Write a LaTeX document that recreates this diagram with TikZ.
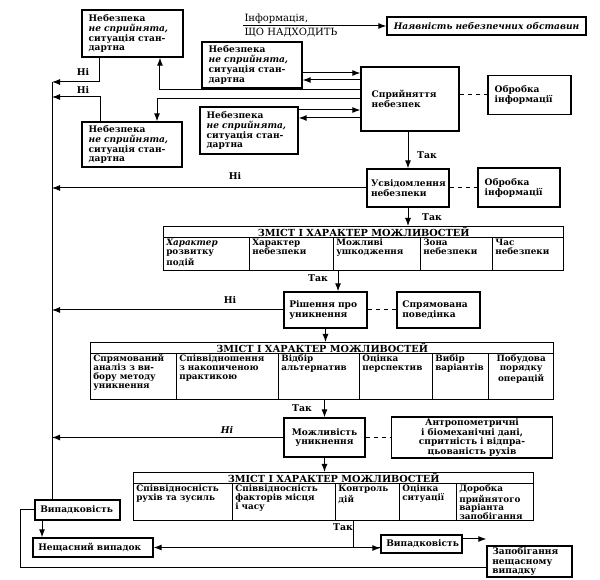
\documentclass[tikz,border=0pt]{standalone}
\usepackage{fontspec}
\setmainfont{DejaVu Serif}
\usetikzlibrary{arrows.meta}
\usetikzlibrary{calc}
\newcommand{\boxfont}{\fontsize{6.8}{7.4}\selectfont\bfseries}
\newcommand{\cellfont}{\fontsize{6.6}{6.7}\selectfont\bfseries}
\newcommand{\headfont}{\fontsize{7.3}{8}\selectfont\bfseries}
\newcommand{\lblfont}{\fontsize{7}{8}\selectfont\bfseries}
\newcommand{\infofont}{\fontsize{7.5}{8}\selectfont}
\tikzset{every picture/.style={line width=0.75pt},
  box/.style={draw, line width=1pt, font=\boxfont, align=left, inner xsep=5pt, inner ysep=2pt},
  head/.style={draw, line width=1pt, font=\headfont, anchor=north west, inner sep=0pt, minimum height=8.25pt},
  cell/.style={draw, line width=1pt, font=\cellfont, anchor=north west, align=left, inner xsep=2pt, inner ysep=1.5pt, text height=4.5pt},
  cellA/.style={cell, text depth=17.25pt},
  cellB/.style={cell, text depth=27pt},
  cellC/.style={cell, text depth=20.25pt},
  lbl/.style={font=\lblfont, inner sep=0.75pt},
  arr/.style={-{Latex[length=6pt,width=4.5pt]}},
  link/.style={dash pattern=on 3.5pt off 2.5pt}}

\begin{document}
\begin{tikzpicture}[x=0.75pt,y=0.75pt,yscale=-1,xscale=1]
\useasboundingbox (0,0) rectangle (600,580);

%Shape: top boxes
\node[box, text width=65.75pt, minimum height=35.25pt] (dangerA) at (132.5,33.5) {Небезпека\\\textit{не сприйнята,}\\ситуація стан-\\дартна};
\node[box, text width=65pt, minimum height=33.75pt] (dangerB) at (132,144.5) {Небезпека\\\textit{не сприйнята,}\\ситуація стан-\\дартна};
\node[box, text width=65pt, minimum height=34.5pt] (dangerC) at (252,65) {Небезпека\\\textit{не сприйнята,}\\ситуація стан-\\дартна};
\node[box, text width=63.5pt, minimum height=35.25pt] (dangerD) at (249,130.5) {Небезпека\\\textit{не сприйнята,}\\ситуація стан-\\дартна};
\node[box, align=center, text width=139.25pt, minimum height=13.5pt, font=\boxfont\itshape] (obst) at (486.5,26) {Наявність небезпечних обставин};
\node[box, inner xsep=8pt, text width=57.5pt, minimum height=48pt] (perc) at (410,99) {Сприйняття\\небезпек};
\node[box, text width=52.25pt, minimum height=29.25pt] (procA) at (529.5,95) {Обробка\\інформації};

% Text Node
\coordinate (infoStart) at (243,26);
\node[font=\infofont, anchor=south west, inner sep=0.75pt] (infoA) at (243,25) {Інформація,};
\node[font=\infofont, anchor=north west, inner sep=0.75pt] (infoB) at (243,27) {ЩО НАДХОДИТЬ};

%Shape: middle boxes
\node[box, inner xsep=3pt, text width=55.5pt, minimum height=28.5pt] (aware) at (408,188) {Усвідомлення\\небезпеки};
\node[box, text width=51.5pt, minimum height=29.25pt] (procB) at (519,187.5) {Обробка\\інформації};
\node[box, inner xsep=4pt, text width=54.25pt, minimum height=27pt] (decide) at (325.5,310) {Рішення про\\уникнення};
\node[box, inner xsep=4pt, text width=54.25pt, minimum height=27pt] (dirbeh) at (438.5,310) {Спрямована\\поведінка};
\node[box, align=center, inner xsep=4pt, text width=52.75pt, minimum height=29.25pt] (avoid) at (324.5,437.5) {Можливість\\уникнення};
\node[box, align=center, inner ysep=1pt, text width=110.5pt, minimum height=30.75pt] (anthro) at (472,437.5) {Антропометричні\\і біомеханічні дані,\\спритність і відпра-\\цьованість рухів};

%Shape: table 1
\node[head, minimum width=300pt] (headA) at (163,226) {ЗМІСТ І ХАРАКТЕР МОЖЛИВОСТЕЙ};
\node[cellA, text width=60.5pt] (cellA1) at (163,237) {\textit{Характер}\\розвитку\\подій};
\node[cellA, text width=59pt] (cellA2) at (249,237) {Характер\\небезпеки};
\node[cellA, text width=61.25pt] (cellA3) at (333,237) {Можливі\\ушкодження};
\node[cellA, text width=50pt] (cellA4) at (420,237) {Зона\\небезпеки};
\node[cellA, text width=49.25pt] (cellA5) at (492,237) {Час\\небезпеки};

%Shape: table 2
\node[head, minimum width=347.25pt] (headB) at (90,342) {ЗМІСТ І ХАРАКТЕР МОЖЛИВОСТЕЙ};
\node[cellB, text width=60.5pt] (cellB1) at (90,353) {Спрямований\\аналіз з ви-\\бору методу\\уникнення};
\node[cellB, text width=72.5pt] (cellB2) at (176,353) {Співвідношення\\з накопиченою\\практикою};
\node[cellB, text width=56.75pt] (cellB3) at (278,353) {Відбір\\альтернатив};
\node[cellB, text width=50.75pt] (cellB4) at (359,353) {Оцінка\\перспектив};
\node[cellB, text width=38pt] (cellB5) at (432,353) {Вибір\\варіантів};
\node[cellB, align=center, text width=44.75pt] (cellB6) at (488,353) {Побудова\\порядку\\операцій};

%Shape: table 3
\node[head, minimum width=300pt] (headC) at (133,472) {ЗМІСТ І ХАРАКТЕР МОЖЛИВОСТЕЙ};
\node[cellC, text width=70.25pt] (cellC1) at (133,483) {Співвідносність\\рухів та зусиль};
\node[cellC, text width=73.25pt] (cellC2) at (232,483) {Співвідносність\\факторів місця\\і часу};
\node[cellC, text width=44pt] (cellC3) at (335,483) {Контроль\\дій};
\node[cellC, text width=38.75pt] (cellC4) at (399,483) {Оцінка\\ситуації};
\node[cellC, text width=53.75pt] (cellC5) at (456,483) {Доробка\\прийнятого\\варіанта\\запобігання};

%Shape: bottom boxes
\node[box, inner xsep=4pt, text width=55.75pt, minimum height=15pt] (randA) at (77.5,510) {Випадковість};
\node[box, inner xsep=4pt, text width=82pt, minimum height=14.25pt] (accident) at (93,547.5) {Нещасний випадок};
\node[box, inner xsep=4pt, text width=52.75pt, minimum height=13.5pt] (randB) at (421.5,544) {Випадковість};
\node[box, inner xsep=4pt, inner ysep=0.5pt, text width=55.75pt, minimum height=23.25pt] (prevent) at (529.5,561.5) {Запобігання\\нещасному\\випадку};

% Text Node
\node[lbl] (noA) at (83,72) {Ні};
\node[lbl] (noB) at (83,90) {Ні};
\node[lbl] (noC) at (235,176) {Ні};
\node[lbl] (noD) at (230,300) {Ні};
\node[lbl, font=\lblfont\itshape] (noE) at (227,430) {Ні};
\node[lbl] (yesA) at (427,155) {Так};
\node[lbl] (yesB) at (432,217) {Так};
\node[lbl] (yesC) at (318,278) {Так};
\node[lbl] (yesD) at (302,408) {Так};
\node[lbl] (yesE) at (343,527) {Так};

%Straight Lines: top part
\draw[arr] (infoStart) -- (obst.west);
\draw[arr] (dangerC.east |- 0,73) -- (perc.west |- 0,73);
\draw[arr] (perc.west |- 0,80) -- (dangerC.east |- 0,80);
\draw[arr] (perc.west |- 0,90) -| ([xshift=20.6pt]dangerA.south);
\draw[arr] (perc.west |- 0,99) -| ([xshift=18.75pt]dangerB.north);
\draw[arr] (dangerD.east |- 0,110) -- (perc.west |- 0,110);
\draw[arr] (perc.west |- 0,118) -- (dangerD.east |- 0,118);
\draw[link] (perc.east |- procA.west) -- (procA.west);

%Straight Lines: left trunk
\coordinate (trunkTop) at (52,82);
\draw[arr] ([xshift=-24.4pt]dangerA.south) |- (trunkTop);
\draw[arr] ([xshift=-24pt]dangerB.north) |- (trunkTop |- 0,97);
\draw (trunkTop) -- (trunkTop |- randA.north);
\draw[arr] (aware.west) -- (aware.west -| trunkTop);
\draw[arr] (decide.west) -- (decide.west -| trunkTop);
\draw[arr] (avoid.west) -- (avoid.west -| trunkTop);

%Straight Lines: main column
\draw[arr] (perc.south -| aware.north) -- (aware.north);
\draw[link] (aware.east |- procB.west) -- (procB.west);
\draw[arr] (aware.south) -- (aware.south |- headA.north);
\draw[arr] ([xshift=9.4pt]decide.north |- cellA1.south) -- ([xshift=9.4pt]decide.north);
\draw[link] (decide.east) -- (dirbeh.west);
\draw[arr] (decide.south) -- (decide.south |- headB.north);
\draw[arr] (avoid.north |- cellB1.south) -- (avoid.north);
\draw[link] (avoid.east) -- (anthro.west);
\draw[arr] (avoid.south) -- (avoid.south |- headC.north);
\draw[arr] (cellC3.south -| 353,0) |- ([yshift=3pt]randB.west);

%Straight Lines: bottom part
\draw[arr] (accident.east -| randB.west) -- (accident.east);
\draw[arr] ([yshift=-3.75pt]randB.east) -- ([yshift=-3.75pt]randB.east -| prevent.west);
\draw[arr] ([xshift=-26.6pt]randA.south) -- ([xshift=-26.6pt]randA.south |- accident.north);
\coordinate (loopCorner) at (20,568);
\draw (prevent.west |- loopCorner) -| (loopCorner |- randA.west) -- (randA.west);

\end{tikzpicture}
\end{document}
